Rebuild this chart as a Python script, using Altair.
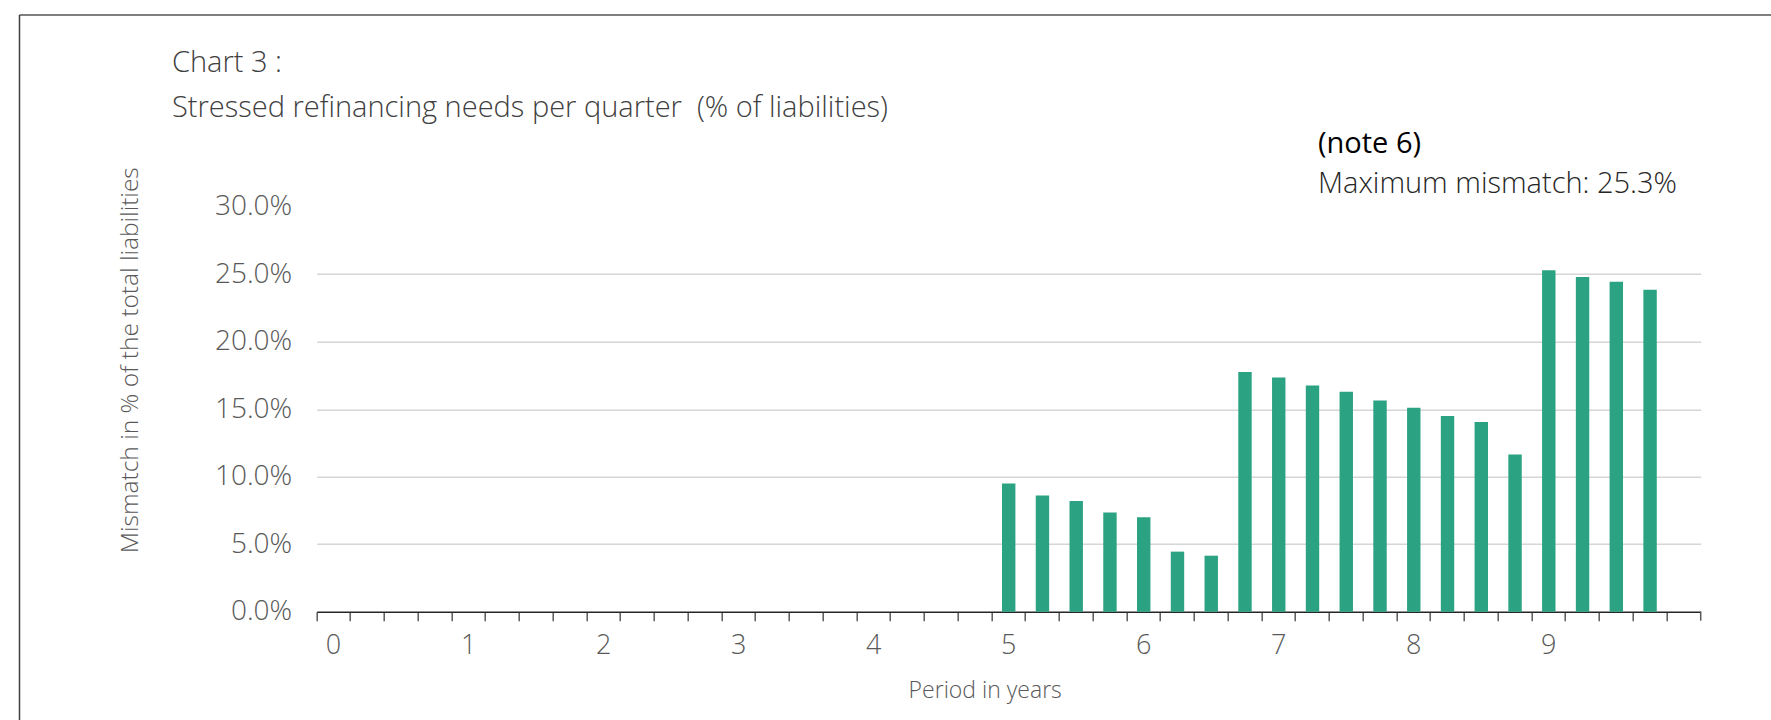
import altair as alt
import pandas as pd

periods = [0, 0.25, 0.5, 0.75, 1, 1.25, 1.5, 1.75, 2, 2.25, 2.5, 2.75,
           3, 3.25, 3.5, 3.75, 4, 4.25, 4.5, 4.75, 5, 5.25, 5.5, 5.75,
           6, 6.25, 6.5, 6.75, 7, 7.25, 7.5, 7.75, 8, 8.25, 8.5, 8.75,
           9, 9.25, 9.5, 9.75, 10]
mismatch = [0, 0, 0, 0, 0, 0, 0, 0, 0, 0, 0, 0,
            0, 0, 0, 0, 0, 0, 0, 0, 0.095, 0.086, 0.082, 0.0735,
            0.070, 0.0445, 0.0415, 0.1775, 0.1735, 0.1675, 0.163, 0.1565, 0.151, 0.145, 0.1405, 0.1165,
            0.253, 0.248, 0.2445, 0.2385, 0]
y_ticks = [0, 0.05, 0.10, 0.15, 0.20, 0.25, 0.30]

title_line1 = "Chart 3 :"
title_line2 = "Stressed refinancing needs per quarter \u00a0(% of liabilities)"
note_text = "(note 6)"
max_text = "Maximum mismatch: 25.3%"
x_title = "Period in years"
y_title = "Mismatch in % of the total liabilities"

FONT = "Open Sans"
W, H = 1384, 405
PAD_L, PAD_T = 316.7, 206.7
PAD_R = 1771 - PAD_L - W
PAD_B = 720 - PAD_T - H

df = pd.DataFrame({"period": periods, "mismatch": mismatch})

x_enc = alt.X(
    "period:O",
    scale=alt.Scale(domain=periods, paddingInner=0, paddingOuter=0),
    axis=alt.Axis(
        title=x_title,
        bandPosition=0,
        labelExpr="(datum.value % 1 === 0 && datum.value < 10) ? datum.value : ''",
        labelAngle=0,
        labelFont=FONT, labelFontSize=27, labelFontWeight=300, labelColor="#595959",
        labelBaseline="middle", labelPadding=25,
        ticks=True, tickSize=9, tickColor="#595959", tickWidth=1.5,
        domainColor="#262626", domainWidth=1.5,
        grid=False,
        titleFont=FONT, titleFontSize=23, titleFontWeight=300, titleColor="#595959",
        titleX=668, titleY=79, titleBaseline="middle", titleAlign="center",
    ),
)

y_enc = alt.Y(
    "mismatch:Q",
    scale=alt.Scale(domain=[0, 0.30], nice=False),
    axis=alt.Axis(
        title=y_title,
        values=y_ticks,
        format=".1%",
        ticks=False, domain=False,
        labelFont=FONT, labelFontSize=28, labelFontWeight=300, labelColor="#595959",
        labelPadding=25,
        grid=True, gridColor="#d6d6d6", gridWidth=1.5,
        gridOpacity={"condition": {"test": "datum.value >= 0.3 || datum.value <= 0", "value": 0}, "value": 1},
        titleFont=FONT, titleFontSize=24.5, titleFontWeight=300, titleColor="#595959",
        titleAngle=-90, titleX=-186.7, titleY=153, titleBaseline="middle", titleAlign="center",
    ),
)

bars = alt.Chart(df).mark_bar(color="#2BA282", size=13.4).encode(x=x_enc, y=y_enc)

end_tick = alt.Chart(df.head(1)).mark_rule(color="#595959", strokeWidth=1.5).encode(
    x=alt.value(W), y=alt.value(H), y2=alt.value(H + 9))

frame_top = alt.Chart(df.head(1)).mark_rule(color="#7f7f7f", strokeWidth=2).encode(
    x=alt.value(19.5 - PAD_L), x2=alt.value(1771 - PAD_L), y=alt.value(15 - PAD_T))
frame_left = alt.Chart(df.head(1)).mark_rule(color="#404040", strokeWidth=1.5).encode(
    x=alt.value(19.5 - PAD_L), y=alt.value(15 - PAD_T), y2=alt.value(720 - PAD_T))

def txt(s, x, y, size, color, weight):
    return alt.Chart(pd.DataFrame({"t": [s]})).mark_text(
        align="left", baseline="alphabetic", font=FONT, fontSize=size,
        fontWeight=weight, color=color,
    ).encode(text="t:N", x=alt.value(x), y=alt.value(y))

t1 = txt(title_line1, 172 - PAD_L, 72 - PAD_T, 29, "#404040", 300)
t2 = txt(title_line2, 172 - PAD_L, 117 - PAD_T, 29, "#404040", 300)
t3 = txt(note_text, 1318 - PAD_L, 153 - PAD_T, 29, "#000000", 400)
t4 = txt(max_text, 1318 - PAD_L, 192.7 - PAD_T, 29, "#262626", 300)

chart = alt.layer(bars, end_tick, frame_top, frame_left, t1, t2, t3, t4).properties(
    width=W, height=H,
    autosize=alt.AutoSizeParams(type="none"),
    padding={"left": PAD_L, "top": PAD_T, "right": PAD_R, "bottom": PAD_B},
    background="white",
).configure_view(strokeWidth=0)

chart.save("out.html", embed_options={"renderer": "svg", "actions": False})
